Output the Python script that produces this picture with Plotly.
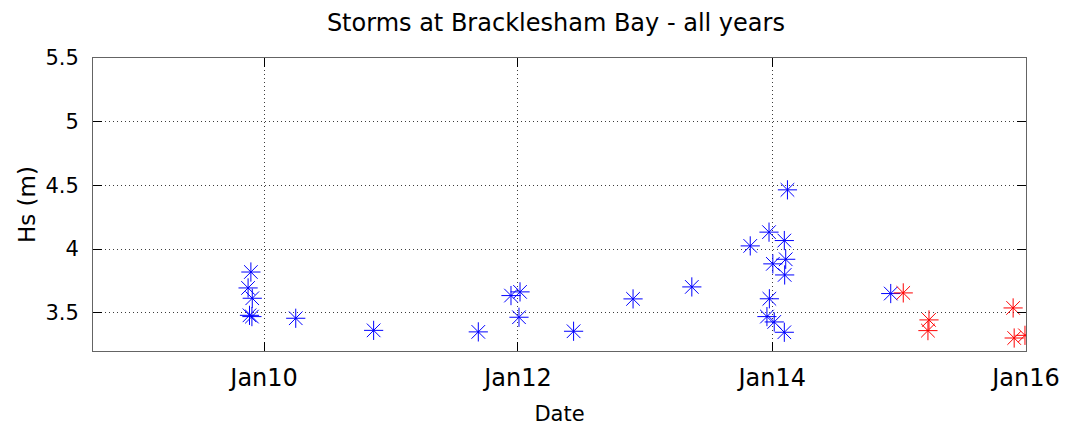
import plotly.graph_objects as go

# Storm events (date, significant wave height Hs in m)
blue_dates = [
    "2009-11-24", "2009-11-16", "2009-11-28", "2009-11-20", "2009-11-27",
    "2010-04-02", "2010-11-12", "2011-09-09", "2011-12-12", "2012-01-07",
    "2012-01-04", "2012-06-09", "2012-11-27", "2013-05-15", "2013-10-30",
    "2013-12-17", "2013-12-23", "2013-12-24", "2014-01-03", "2014-01-07",
    "2014-02-05", "2014-02-05", "2014-02-06", "2014-02-09", "2014-02-14",
    "2014-12-08",
]
blue_hs = [
    3.82, 3.695, 3.614, 3.48, 3.47,
    3.457, 3.362, 3.35, 3.635, 3.664,
    3.465, 3.355, 3.609, 3.703, 4.025,
    3.47, 4.133, 3.61, 3.884, 3.428,
    4.067, 3.347, 3.797, 3.92, 4.465,
    3.651,
]
red_dates = ["2015-01-13", "2015-03-28", "2015-03-25", "2015-11-25", "2015-11-28", "2015-12-29"]
red_hs = [3.656, 3.444, 3.36, 3.538, 3.302, 3.323]

tick_vals = ["2010-01-01", "2012-01-01", "2014-01-01", "2016-01-01"]
tick_text = ["Jan10", "Jan12", "Jan14", "Jan16"]
y_ticks = [3.5, 4, 4.5, 5, 5.5]
y_tick_text = ["3.5", "4", "4.5", "5", "5.5"]

FONT = "DejaVu Sans"

fig = go.Figure()
fig.add_trace(go.Scatter(
    x=blue_dates, y=blue_hs, mode="markers",
    marker=dict(symbol="asterisk-open", size=16, color="rgb(0,0,255)",
                line=dict(color="rgb(0,0,255)", width=1)),
    showlegend=False,
))
fig.add_trace(go.Scatter(
    x=red_dates, y=red_hs, mode="markers",
    marker=dict(symbol="asterisk-open", size=16, color="rgb(255,0,0)",
                line=dict(color="rgb(255,0,0)", width=1)),
    showlegend=False,
))

fig.update_layout(
    width=1067, height=426,
    margin=dict(l=93, r=41, t=58, b=75),
    paper_bgcolor="white", plot_bgcolor="white",
    font=dict(family=FONT, color="black"),
    title=dict(text="Storms at Bracklesham Bay - all years", x=0.521, xanchor="center",
               xref="container", y=0.946, yref="container", yanchor="middle",
               font=dict(family=FONT, size=24, color="black")),
)
fig.update_xaxes(
    type="date", range=["2008-08-27", "2016-01-01"],
    tickvals=tick_vals, ticktext=tick_text,
    tickfont=dict(size=24, family=FONT), ticklabelstandoff=5,
    ticklabeloverflow="allow", automargin=False,
    title=dict(text="Date", font=dict(size=21, family=FONT), standoff=17),
    showline=True, linecolor="rgb(100,100,100)", linewidth=1, mirror="ticks",
    ticks="inside", ticklen=9, tickcolor="black",
    showgrid=True, gridcolor="rgb(60,60,60)", griddash="1px,3px", gridwidth=1,
    zeroline=False,
)
fig.update_yaxes(
    range=[3.2, 5.5], tickvals=y_ticks, ticktext=y_tick_text,
    tickfont=dict(size=21, family=FONT), ticklabelstandoff=9, automargin=False,
    title=dict(text="Hs (m)", font=dict(size=23, family=FONT), standoff=3),
    showline=True, linecolor="rgb(100,100,100)", linewidth=1, mirror="ticks",
    ticks="inside", ticklen=9, tickcolor="black",
    showgrid=True, gridcolor="rgb(60,60,60)", griddash="1px,3px", gridwidth=1,
    zeroline=False,
)

fig.write_html("out.html", config={"displayModeBar": False},
               post_script="document.body.style.margin='0';")
